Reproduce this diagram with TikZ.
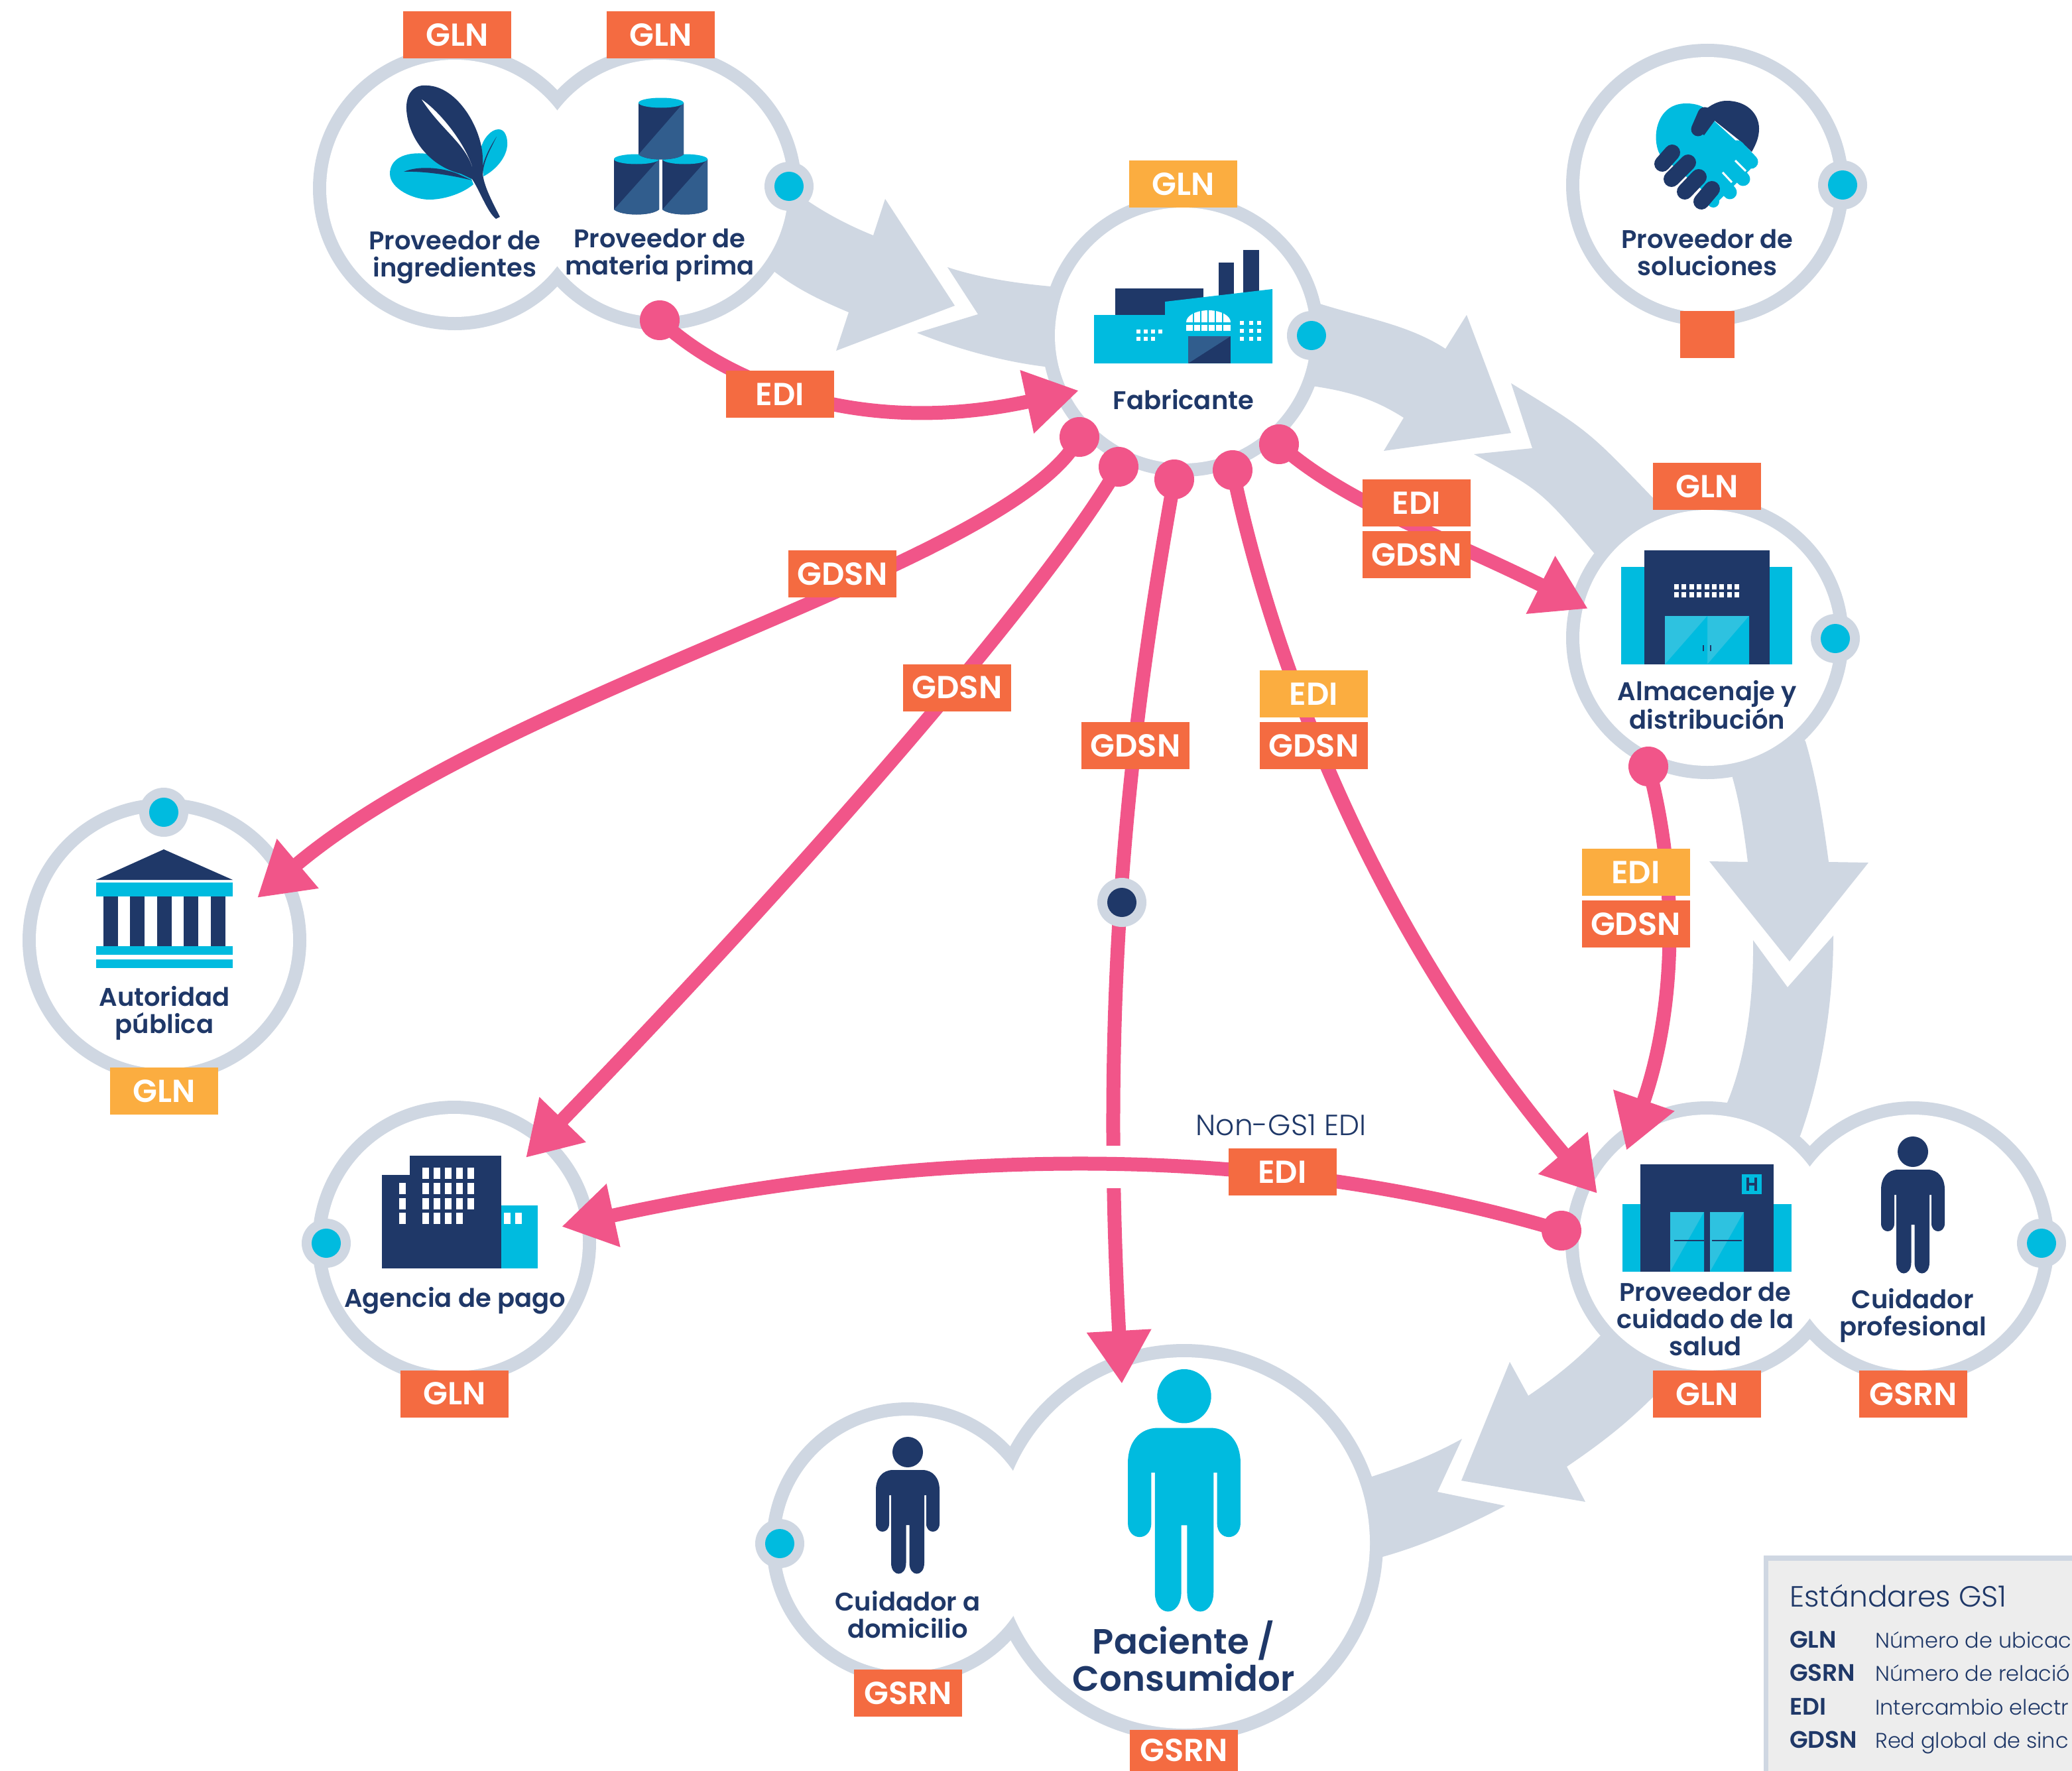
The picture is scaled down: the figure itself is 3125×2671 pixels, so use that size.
\documentclass[tikz,border=0pt]{standalone}
\usepackage{fontspec}
\usetikzlibrary{arrows.meta}
\setmainfont{Poppins}
\newfontfamily\fsemi{Poppins SemiBold}
\newfontfamily\flight{Poppins Light}
\definecolor{gring}{HTML}{CFD7E2}
\definecolor{navy}{HTML}{1F3868}
\definecolor{cyanb}{HTML}{00BBDF}
\definecolor{cyanl}{HTML}{2EC2E0}
\definecolor{steel}{HTML}{315D8D}
\definecolor{pinkl}{HTML}{F15589}
\definecolor{orng}{HTML}{F46B41}
\definecolor{yell}{HTML}{FBAD40}
\definecolor{legbg}{HTML}{EDEDED}
\newcommand\mkperson[4]{%
 \begin{scope}[shift={(#1,#2)},scale=#3]
 \fill[#4] (0,23) circle[radius=23];
 \fill[#4] (-22,50) -- (22,50) .. controls (38,50) and (48,62) .. (48,80) -- (48,131) .. controls (48,147) and (28,147) .. (28,131) -- (28,88) -- (25,88) -- (25,190) .. controls (25,212) and (2.5,212) .. (2.5,190) -- (2.5,133) -- (-2.5,133) -- (-2.5,190) .. controls (-2.5,212) and (-25,212) .. (-25,190) -- (-25,88) -- (-28,88) -- (-28,131) .. controls (-28,147) and (-48,147) .. (-48,131) -- (-48,80) .. controls (-48,62) and (-38,50) .. (-22,50) -- cycle;
 \end{scope}}
\newcommand\mkcyl[3]{%
 \fill[navy] (#1-34,#2) -- (#1+34,#2) -- (#1+34,#2+#3-9) .. controls (#1+22,#2+#3+1) and (#1-22,#2+#3+1) .. (#1-34,#2+#3-9) -- cycle;
 \fill[steel] (#1+34,#2) -- (#1+34,#2+#3-9) .. controls (#1+22,#2+#3+1) and (#1-22,#2+#3+1) .. (#1-34,#2+#3-9) -- cycle;
 \fill[cyanb] (#1,#2) ellipse[x radius=34,y radius=7.5];}
\begin{document}
\begin{tikzpicture}[x=1pt,y=-1pt,
 bigring/.style={circle,fill=gring,inner sep=0pt,minimum size=#1},
 whitedisc/.style={circle,fill=white,inner sep=0pt,minimum size=#1},
 dotouter/.style={circle,fill=gring,inner sep=0pt,minimum size=74pt},
 dotcyan/.style={circle,fill=cyanb,inner sep=0pt,minimum size=44pt},
 dotnavy/.style={circle,fill=navy,inner sep=0pt,minimum size=44pt},
 pinkdot/.style={circle,fill=pinkl,inner sep=0pt,minimum size=60pt},
 tagbase/.style={inner sep=0pt,minimum width=163pt,minimum height=71pt,text=white,font=\fsemi\fontsize{48}{52}\selectfont},
 tagO/.style={tagbase,fill=orng},
 tagY/.style={tagbase,fill=yell},
 lab/.style={text=navy,align=center,inner sep=0pt,font=\fsemi\fontsize{38.5}{41}\selectfont},
 biglab/.style={text=navy,align=center,inner sep=0pt,font=\fsemi\fontsize{53}{56}\selectfont},
 flow/.style={draw=pinkl,line width=21pt,-{Triangle[length=80pt,width=92pt]}},
 grey/.style={fill=gring},
 leglight/.style={text=navy,anchor=base west,inner sep=0pt,font=\flight\fontsize{32}{36}\selectfont},
 legbold/.style={text=navy,anchor=base west,inner sep=0pt,font=\fsemi\fontsize{36}{38}\selectfont}]
\useasboundingbox (0,0) rectangle (3125,2671);
\clip (0,0) rectangle (3125,2671);
\fill[white] (0,0) rectangle (3125,2671);

% --- big grey flow arrows ---
\fill[grey] (1100,300) -- (1200,290) .. controls (1240,320) and (1280,340) .. (1317,355) -- (1335,300) -- (1440,461) -- (1261,529) -- (1280,471) .. controls (1230,450) and (1190,430) .. (1150,395) -- cycle;
\fill[grey] (1429,403) .. controls (1480,420) and (1540,428) .. (1585,432) -- (1650,440) -- (1650,560) -- (1576,553) .. controls (1510,545) and (1440,525) .. (1383,502) -- (1475,474) -- cycle;
\fill[grey] (1900,450) -- (1990,458) .. controls (2060,480) and (2125,490) .. (2180,526) -- (2212,475) -- (2279,653) -- (2087,680) -- (2117,630) .. controls (2070,600) and (2030,590) .. (1985,583) -- (1900,570) -- cycle;
\fill[grey] (2279,578) .. controls (2395,649) and (2395,649) .. (2493,751) -- (2575,780) -- (2560,900) -- (2404,834) .. controls (2324,740) and (2324,740) .. (2223,685) -- (2311,676) -- cycle;
\fill[grey] (2620,1100) -- (2613,1173) .. controls (2625,1215) and (2631,1260) .. (2636,1300) -- (2578,1299) -- (2699,1450) -- (2818,1301) -- (2758,1300) .. controls (2750,1240) and (2740,1175) .. (2723,1118) -- (2690,1080) -- cycle;
\fill[grey] (2644,1418) -- (2696,1489) -- (2765,1411) .. controls (2765,1520) and (2745,1630) .. (2715,1713) -- (2640,1780) -- (2605,1663) .. controls (2635,1590) and (2645,1500) .. (2644,1418) -- cycle;
\fill[grey] (2413,2015) .. controls (2380,2050) and (2345,2078) .. (2305,2105) -- (2277,2054) -- (2204,2233) -- (2391,2265) -- (2363,2212) .. controls (2410,2180) and (2450,2150) .. (2493,2107) -- (2500,2000) -- cycle;
\fill[grey] (2205,2170) .. controls (2160,2195) and (2115,2212) .. (2069,2227) -- (2000,2260) -- (2000,2360) -- (2085,2348) .. controls (2150,2330) and (2215,2300) .. (2270,2271) -- (2168,2250) -- cycle;

% --- rings ---
\node[bigring=428pt] (ringIng) at (686,284) {};
\node[bigring=428pt] (ringMat) at (995,284) {};
\node[bigring=426pt] (ringFab) at (1784,506) {};
\node[bigring=426pt] (ringSol) at (2575,279) {};
\node[bigring=426pt] (ringAlm) at (2575,962) {};
\node[bigring=428pt] (ringAut) at (248,1418) {};
\node[bigring=428pt] (ringAge) at (685,1874) {};
\node[bigring=426pt] (ringHos) at (2574,1874) {};
\node[bigring=426pt] (ringPro) at (2885,1874) {};
\node[bigring=426pt] (ringDom) at (1369,2328) {};
\node[bigring=600pt] (ringPac) at (1786,2327) {};
\node[whitedisc=388pt] at (ringIng) {};
\node[whitedisc=388pt] at (ringMat) {};
\node[whitedisc=386pt] at (ringFab) {};
\node[whitedisc=386pt] at (ringSol) {};
\node[whitedisc=386pt] at (ringAlm) {};
\node[whitedisc=388pt] at (ringAut) {};
\node[whitedisc=388pt] at (ringAge) {};
\node[whitedisc=386pt] at (ringHos) {};
\node[whitedisc=386pt] at (ringPro) {};
\node[whitedisc=386pt] at (ringDom) {};
\node[whitedisc=560pt] at (ringPac) {};

% --- icons ---
% leaf
\fill[cyanb] (644,232) .. controls (610,228) and (588,240) .. (588,262) .. controls (588,285) and (625,302) .. (650,301) .. controls (675,300) and (700,290) .. (714,278) -- (700,240) -- cycle;
\fill[cyanb] (752,195) .. controls (762,195) and (766,208) .. (765,220) .. controls (763,240) and (745,258) .. (729,266) -- (725,225) .. controls (728,210) and (740,195) .. (752,195) -- cycle;
\fill[navy] (644,129) .. controls (625,127) and (612,140) .. (613,165) .. controls (615,205) and (645,250) .. (695,262) -- (712,270) .. controls (725,290) and (735,320) .. (748,330) -- (754,327) .. controls (740,300) and (730,280) .. (728,262) -- (728,240) .. controls (728,195) and (690,130) .. (644,129) -- cycle;
\fill[white] (636,150) .. controls (665,170) and (700,215) .. (712,251) .. controls (700,215) and (665,195) .. (636,150) -- cycle;
\fill[navy] (609,259) .. controls (630,250) and (665,252) .. (690,262) -- (712,272) .. controls (680,264) and (640,258) .. (609,259) -- cycle;
\fill[navy] (749,206) .. controls (740,220) and (732,235) .. (728,250) -- (728,262) .. controls (730,240) and (740,225) .. (749,206) -- cycle;
% cylinders
\mkcyl{960}{240}{85}
\mkcyl{1033}{240}{85}
\mkcyl{997}{155}{87}
% factory
\fill[navy] (1682,435) rectangle (1815,476);
\fill[navy] (1838,396) rectangle (1861,450);
\fill[navy] (1875,377) rectangle (1899,445);
\fill[cyanb] (1650,475) -- (1757,475) -- (1757,455) -- (1919,436) -- (1919,548) -- (1650,548) -- cycle;
\fill[navy] (1792,507) rectangle (1856,548);
\fill[steel] (1792,507) -- (1856,507) -- (1792,548) -- cycle;
\fill[white] (1789,486) arc[start angle=180,end angle=360,x radius=33.5,y radius=18] -- cycle;
\fill[white] (1789,490) rectangle (1856,499);
\foreach \x in {1800,1811,1822,1833,1844} {\fill[cyanb] (\x-1,466) rectangle (\x+1,500);}
\fill[cyanb] (1785,487) rectangle (1860,490);
\foreach \x in {1714,1725,1736,1747} {\fill[white] (\x,497) rectangle +(6,6);}
\foreach \x in {1714,1725,1736} {\fill[white] (\x,508) rectangle +(6,6);}
\foreach \x in {1870,1884,1896} \foreach \y in {484,496,508} {\fill[white] (\x,\y) rectangle +(6,6);}
% handshake
\fill[cyanb] (2504,234) .. controls (2490,210) and (2497,156) .. (2543,156) .. controls (2558,156) and (2568,160) .. (2575,166) -- (2586,183) -- (2648,240) -- (2640,255) -- (2590,305) -- cycle;
\fill[cyanb] (2584,304) circle[radius=9];
\fill[navy] (2572,165) .. controls (2585,155) and (2595,152) .. (2604,152) .. controls (2635,152) and (2653,172) .. (2653,194) .. controls (2653,208) and (2648,218) .. (2642,229) -- (2625,213) -- (2586,182) -- (2570,204) -- (2555,190) -- cycle;
\draw[navy,line width=21pt,line cap=round] (2571,172) -- (2561,195);
\draw[cyanb,line width=21pt,line cap=round] (2620,222) -- (2641,244);
\draw[cyanb,line width=21pt,line cap=round] (2600,235) -- (2629,270);
\draw[cyanb,line width=21pt,line cap=round] (2585,260) -- (2609,290);
\draw[white,line width=3pt] (2617,242) -- (2633,258);
\draw[white,line width=3pt] (2598,260) -- (2612,275);
\draw[navy,line width=24pt,line cap=round] (2507,247) -- (2522,230);
\draw[navy,line width=24pt,line cap=round] (2521,270) -- (2546,245);
\draw[navy,line width=24pt,line cap=round] (2541,289) -- (2562,267);
\draw[navy,line width=24pt,line cap=round] (2566,304) -- (2582,285);
% warehouse
\fill[cyanb] (2445,855) rectangle (2703,1002);
\fill[navy] (2480,830) rectangle (2669,1002);
\fill[cyanl] (2511,929) rectangle (2638,1002);
\fill[cyanb] (2575,929) -- (2511,1002) -- (2575,1002) -- cycle;
\fill[cyanb] (2638,929) -- (2575,1002) -- (2638,1002) -- cycle;
\fill[navy] (2568,973) rectangle +(2,9);
\fill[navy] (2579,973) rectangle +(2,9);
\foreach \x in {0,...,8} \foreach \y in {881,893} {\fill[white] (2525+\x*11.4,\y) rectangle +(7,8);}
% hospital
\fill[cyanb] (2447,1816) rectangle (2702,1918);
\fill[navy] (2474,1756) rectangle (2675,1918);
\fill[cyanl] (2519,1828) rectangle (2570,1918);
\fill[cyanl] (2579,1828) rectangle (2630,1918);
\fill[cyanb] (2570,1828) -- (2519,1918) -- (2570,1918) -- cycle;
\fill[cyanb] (2630,1828) -- (2579,1918) -- (2630,1918) -- cycle;
\fill[navy] (2525,1870) rectangle (2570,1872);
\fill[navy] (2582,1870) rectangle (2627,1872);
\fill[cyanb] (2627,1771) rectangle (2657,1801);
\fill[navy] (2634,1776) rectangle (2638,1796);
\fill[navy] (2646,1776) rectangle (2650,1796);
\fill[navy] (2634,1784) rectangle (2650,1788);
% government
\fill[navy] (247,1281) -- (351,1327) -- (145,1327) -- cycle;
\fill[cyanb] (145,1331) rectangle (351,1352);
\foreach \x in {156,196,237,277,318} {\fill[navy] (\x,1352) rectangle +(21.5,75);}
\fill[cyanb] (145,1427) rectangle (351,1440);
\fill[cyanb] (145,1447) rectangle (351,1460);
% agency
\fill[cyanb] (756,1818) rectangle (811,1913);
\fill[navy] (576,1772) rectangle (618,1913);
\fill[navy] (618,1743) rectangle (756,1913);
\foreach \x in {637,654,671,688,705} \foreach \y in {1761,1784,1807} {\fill[white] (\x,\y) rectangle +(10,17);}
\foreach \x in {637,654,671,688} {\fill[white] (\x,1829) rectangle +(10,17);}
\foreach \y in {1784,1807,1829} {\fill[white] (602,\y) rectangle +(10,17);}
\foreach \x in {760,777} {\fill[white] (\x,1829) rectangle +(10,17);}
% people
\mkperson{2885}{1714}{1}{navy}
\mkperson{1369}{2167}{1}{navy}
\mkperson{1786}{2065}{1.77}{cyanb}

% --- labels ---
\node[lab] (lIng) at (686,388) {Proveedor de\\ingredientes};
\node[lab] (lMat) at (995,385) {Proveedor de\\materia prima};
\node[lab] (lFab) at (1785,603) {Fabricante};
\node[lab] (lSol) at (2575,381) {Proveedor de\\soluciones};
\node[lab] (lAlm) at (2575,1063) {Almacenaje y\\distribución};
\node[lab] (lAut) at (248,1528) {Autoridad\\pública};
\node[lab] (lAge) at (686,1962) {Agencia de pago};
\node[lab] (lHos) at (2572,1989) {Proveedor de\\cuidado de la\\salud};
\node[lab] (lPro) at (2885,1984) {Cuidador\\profesional};
\node[lab] (lDom) at (1369,2435) {Cuidador a\\domicilio};
\node[biglab] (lPac) at (1785,2498) {Paciente /\\Consumidor};

% --- small dots (pink ends, arrow ends) ---
\node[pinkdot] (dMat) at (995,483) {};
\node[pinkdot] (dF1) at (1628,659) {};
\node[pinkdot] (dF2) at (1687,704) {};
\node[pinkdot] (dF3) at (1771,723) {};
\node[pinkdot] (dF4) at (1859,709) {};
\node[pinkdot] (dF5) at (1929,670) {};
\node[pinkdot] (dAlm) at (2486,1156) {};
\node[pinkdot] (dHos) at (2355,1856) {};
\coordinate (tFab) at (1627,589);
\coordinate (tAut) at (388,1354);
\coordinate (tAge) at (793,1746);
\coordinate (tPac) at (1692,2087);
\coordinate (tHos1) at (2409,1800);
\coordinate (tAlm) at (2395,918);
\coordinate (tHos2) at (2453,1735);
\coordinate (tAge2) at (847,1850);

% --- pink connectors ---
\draw[flow] (dMat.center) .. controls (1100,580) and (1300,660) .. (tFab);
\draw[flow] (dF1.center) .. controls (1530,850) and (760,1040) .. (tAut);
\draw[flow] (dF2.center) .. controls (1580,890) and (1215,1310) .. (tAge);
\draw[flow] (dF3.center) .. controls (1700,1120) and (1660,1500) .. (tPac);
\draw[flow] (dF4.center) .. controls (1920,1000) and (2070,1400) .. (tHos1);
\draw[flow] (dF5.center) .. controls (2030,760) and (2180,810) .. (tAlm);
\draw[flow] (dAlm.center) .. controls (2525,1300) and (2535,1500) .. (tHos2);
\fill[white] (1655,1728) rectangle (1705,1792);
\draw[flow] (dHos.center) .. controls (1900,1720) and (1400,1730) .. (tAge2);

% --- ring dots ---
\foreach \n/\p in {cMat/{1190,281},cFab/{1978,506},cSol/{2779,279},cAlm/{2768,963},cAut/{247,1225},cAge/{492,1875},cPro/{3079,1875},cDom/{1176,2328}} {
  \node[dotouter] at (\p) {};
  \node[dotcyan] (\n) at (\p) {};
}
\node[dotouter] (dNon) at (1692,1361) {};
\node[dotnavy] at (dNon) {};

% --- tags ---
\node[tagO] (g1) at (689.5,52.5) {GLN};
\node[tagO] (g2) at (996.5,52.5) {GLN};
\node[tagY] (g3) at (1784.5,277.5) {GLN};
\node[tagO,minimum width=82pt] (g4) at (2575,504) {};
\node[tagO] (g5) at (2574.5,733.5) {GLN};
\node[tagY] (g6) at (247.5,1645.5) {GLN};
\node[tagO] (g7) at (685.5,2102) {GLN};
\node[tagO] (g8) at (2574.5,2102.5) {GLN};
\node[tagO] (g9) at (2885.5,2102.5) {GSRN};
\node[tagO] (g10) at (1369.5,2553.5) {GSRN};
\node[tagO,minimum height=62pt] (g11) at (1785.5,2640) {GSRN};
\node[tagO] (e1) at (1176.5,594.5) {EDI};
\node[tagO] (e2) at (2136.5,758.5) {EDI};
\node[tagO] (s2) at (2136.5,836.5) {GDSN};
\node[tagO] (s3) at (1270.5,865.5) {GDSN};
\node[tagO] (s4) at (1443.5,1037) {GDSN};
\node[tagO] (s5) at (1712.5,1124.5) {GDSN};
\node[tagY] (e6) at (1981.5,1046.5) {EDI};
\node[tagO] (s6) at (1981.5,1124.5) {GDSN};
\node[tagY] (e7) at (2467,1315.5) {EDI};
\node[tagO] (s7) at (2467,1393.5) {GDSN};
\node[tagO] (e8) at (1934,1767.5) {EDI};
\node[text=navy,inner sep=0pt,font=\flight\fontsize{44}{48}\selectfont] (non) at (1932,1697) {Non-GS1 EDI};

% --- legend ---
\fill[gring] (2660,2346) rectangle (3125,2671);
\fill[legbg] (2667,2354) rectangle (3125,2671);
\node[text=navy,anchor=base west,inner sep=0pt,font=\flight\fontsize{44}{48}\selectfont] (legT) at (2699,2423) {Estándares GS1};
\node[legbold] (k1) at (2699,2485) {GLN};
\node[legbold] (k2) at (2699,2535) {GSRN};
\node[legbold] (k3) at (2699,2586) {EDI};
\node[legbold] (k4) at (2699,2636) {GDSN};
\node[leglight] (v1) at (2828,2485) {Número de ubicac};
\node[leglight] (v2) at (2828,2535) {Número de relació};
\node[leglight] (v3) at (2828,2586) {Intercambio electr};
\node[leglight] (v4) at (2828,2636) {Red global de sinc};
\end{tikzpicture}
\end{document}
